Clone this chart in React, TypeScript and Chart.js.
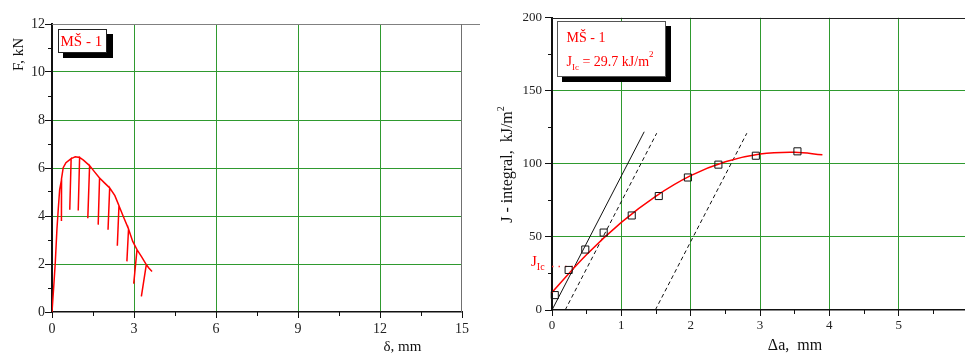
import React, { useEffect, useRef } from 'react';
import { Chart, registerables } from 'chart.js';
Chart.register(...registerables);

// ---- Left chart data: F vs δ (loading with partial unloadings) ----
const deltaValues = [0, 0.06, 0.12, 0.18, 0.23, 0.28, 0.35, 0.34, 0.35, 0.41, 0.51, 0.70, 0.65, 0.70, 0.85, 1.01, 0.96, 1.01, 1.15, 1.375, 1.31, 1.375, 1.55, 1.74, 1.69, 1.74, 1.92, 2.11, 2.05, 2.11, 2.30, 2.45, 2.39, 2.45, 2.62, 2.80, 2.74, 2.80, 2.95, 3.11, 2.99, 3.11, 3.28, 3.45, 3.27, 3.45, 3.55, 3.66];
const forceValues = [0, 1.0, 2.06, 3.44, 4.3, 5.1, 5.53, 3.79, 5.53, 6.01, 6.22, 6.39, 4.26, 6.39, 6.47, 6.44, 4.23, 6.44, 6.33, 6.1, 3.91, 6.1, 5.85, 5.58, 3.64, 5.58, 5.38, 5.17, 3.43, 5.17, 4.85, 4.43, 2.76, 4.43, 3.95, 3.46, 2.11, 3.46, 2.95, 2.6, 1.18, 2.6, 2.3, 1.97, 0.65, 1.97, 1.82, 1.69];
const deltaTicks = [0, 3, 6, 9, 12, 15];
const forceTicks = [0, 2, 4, 6, 8, 10, 12];

// ---- Right chart data: J-integral vs Δa ----
const crackExt = [0.04, 0.24, 0.48, 0.745, 1.15, 1.54, 1.96, 2.40, 2.94, 3.54];
const jValues = [10.2, 27.4, 41.4, 53, 64.7, 78, 90.7, 99.5, 105.6, 108.6];
const fitExt = [0, 0.5, 1, 1.5, 2, 2.5, 3, 3.5, 3.9];
const fitJ = [12, 38, 60, 78, 92, 101.5, 106.8, 108, 106.2];
const bluntExt = [0, 1.33];
const bluntJ = [0, 122];
const offset1Ext = [0.19, 1.51];
const offset1J = [0, 121];
const offset2Ext = [1.49, 2.81];
const offset2J = [0, 121];
const jicExt = [0, 0.36];
const jicJ = [29.7, 29.7];
const extTicks = [0, 1, 2, 3, 4, 5, 6];
const jTicks = [0, 50, 100, 150, 200];

const SERIF = '"Liberation Serif", "Times New Roman", serif';
const GRID = '#2f9a2f';

const pts = (xs: number[], ys: number[]) => xs.map((x, i) => ({ x, y: ys[i] }));

type Part = { t: string; size: number; dy?: number };
function drawRich(ctx: CanvasRenderingContext2D, parts: Part[], x: number, y: number, align: 'left' | 'center' = 'left') {
  let total = 0;
  for (const p of parts) {
    ctx.font = `${p.size}px ${SERIF}`;
    total += ctx.measureText(p.t).width;
  }
  let cx = align === 'center' ? x - total / 2 : x;
  ctx.textAlign = 'left';
  ctx.textBaseline = 'alphabetic';
  for (const p of parts) {
    ctx.font = `${p.size}px ${SERIF}`;
    ctx.fillText(p.t, cx, y + (p.dy || 0));
    cx += ctx.measureText(p.t).width;
  }
}

function decoPlugin(opts: {
  xStep: number; xMajor: number; yStep: number; yMajor: number;
  topColor: string; rightColor: string | null;
  extra: (ctx: CanvasRenderingContext2D, chart: any) => void;
}) {
  return {
    id: 'deco',
    afterDraw(chart: any) {
      const ctx: CanvasRenderingContext2D = chart.ctx;
      const { left, right, top, bottom } = chart.chartArea;
      const xs = chart.scales.x;
      const ys = chart.scales.y;
      ctx.save();
      // borders top/right
      ctx.lineWidth = 1;
      ctx.strokeStyle = opts.topColor;
      ctx.beginPath();
      ctx.moveTo(left, Math.round(top) + 0.5);
      ctx.lineTo(right + 20, Math.round(top) + 0.5);
      ctx.stroke();
      if (opts.rightColor) {
        ctx.strokeStyle = opts.rightColor;
        ctx.beginPath();
        ctx.moveTo(Math.round(right) - 0.5, top);
        ctx.lineTo(Math.round(right) - 0.5, bottom);
        ctx.stroke();
      }
      // tick marks
      ctx.strokeStyle = '#111';
      for (let v = ys.min; v <= ys.max + 1e-9; v += opts.yStep) {
        const p = Math.round(ys.getPixelForValue(v) - 0.5) + 0.5;
        const r = v / opts.yMajor;
        const major = Math.abs(r - Math.round(r)) < 1e-6;
        const len = major ? 6 : 3;
        ctx.beginPath();
        ctx.moveTo(left - len - 1, p);
        ctx.lineTo(left, p);
        ctx.stroke();
      }
      for (let v = xs.min; v <= xs.max + 1e-9; v += opts.xStep) {
        const p = Math.round(xs.getPixelForValue(v) - 0.5) + 0.5;
        const r = v / opts.xMajor;
        const major = Math.abs(r - Math.round(r)) < 1e-6;
        const len = major ? 5 : 3;
        ctx.beginPath();
        ctx.moveTo(p, bottom);
        ctx.lineTo(p, bottom + len + 1);
        ctx.stroke();
      }
      opts.extra(ctx, chart);
      ctx.restore();
    },
  };
}

function gridColor(min: number, max: number) {
  return (c: any) => {
    const v = c.tick ? c.tick.value : null;
    if (v === null || v === min || v === max) return 'rgba(0,0,0,0)';
    return GRID;
  };
}

function LeftChart() {
  const ref = useRef<HTMLCanvasElement>(null);
  useEffect(() => {
    const canvas = ref.current!;
    const chart = new Chart(canvas, {
      type: 'scatter',
      data: {
        datasets: [
          {
            data: pts(deltaValues, forceValues),
            showLine: true,
            borderColor: '#ff0000',
            borderWidth: 1.5,
            pointRadius: 0,
            tension: 0,
          },
        ],
      },
      options: {
        animation: false,
        responsive: false,
        events: [],
        layout: { padding: { left: 0, top: 24, right: 18, bottom: 0 } },
        plugins: { legend: { display: false }, tooltip: { enabled: false } },
        scales: {
          x: {
            type: 'linear',
            min: deltaTicks[0],
            max: deltaTicks[deltaTicks.length - 1],
            afterFit: (s: any) => { s.height = 41; },
            afterBuildTicks: (s: any) => { s.ticks = deltaTicks.map((v) => ({ value: v })); },
            ticks: { color: '#222', font: { family: SERIF, size: 14 }, padding: 9, maxRotation: 0 },
            grid: { color: gridColor(0, 15), drawTicks: false, lineWidth: 1 },
            border: { display: true, color: '#111', width: 1.5 },
          },
          y: {
            type: 'linear',
            min: forceTicks[0],
            max: forceTicks[forceTicks.length - 1],
            afterFit: (s: any) => { s.width = 52; },
            afterBuildTicks: (s: any) => { s.ticks = forceTicks.map((v) => ({ value: v })); },
            ticks: { color: '#222', font: { family: SERIF, size: 14 }, padding: 7 },
            grid: { color: gridColor(0, 12), drawTicks: false, lineWidth: 1 },
            border: { display: true, color: '#111', width: 2 },
          },
        },
      },
      plugins: [
        decoPlugin({
          xStep: 1.5, xMajor: 3, yStep: 1, yMajor: 2,
          topColor: '#808080', rightColor: '#707070',
          extra: (ctx) => {
            ctx.fillStyle = '#111';
            // axis titles
            ctx.save();
            ctx.translate(22.5, 54.5);
            ctx.rotate(-Math.PI / 2);
            drawRich(ctx, [{ t: 'F, kN', size: 15 }], 0, 0, 'center');
            ctx.restore();
            drawRich(ctx, [{ t: 'δ, mm', size: 15 }], 402.5, 350.5, 'center');
            // legend box
            ctx.fillStyle = '#000';
            ctx.fillRect(63, 34, 50, 24);
            ctx.fillStyle = '#fff';
            ctx.fillRect(58, 29, 49, 24);
            ctx.strokeStyle = '#222';
            ctx.lineWidth = 1;
            ctx.strokeRect(58.5, 29.5, 48, 23);
            ctx.fillStyle = '#ff0000';
            drawRich(ctx, [{ t: 'MŠ - 1', size: 15 }], 60.5, 46);
          },
        }) as any,
      ],
    } as any);
    return () => chart.destroy();
  }, []);
  return <canvas ref={ref} width={480} height={353} style={{ position: 'absolute', left: 0, top: 0 }} />;
}

function RightChart() {
  const ref = useRef<HTMLCanvasElement>(null);
  useEffect(() => {
    const canvas = ref.current!;
    const chart = new Chart(canvas, {
      type: 'scatter',
      data: {
        datasets: [
          {
            data: pts(crackExt, jValues),
            showLine: false,
            pointStyle: 'rect',
            pointRadius: 5,
            borderColor: '#111',
            backgroundColor: 'rgba(255,255,255,0)',
            pointBorderWidth: 1,
            clip: false,
          },
          {
            data: pts(fitExt, fitJ),
            showLine: true,
            borderColor: '#ff0000',
            borderWidth: 1.5,
            pointRadius: 0,
            tension: 0.4,
          },
          {
            data: pts(bluntExt, bluntJ),
            showLine: true,
            borderColor: '#111',
            borderWidth: 1,
            pointRadius: 0,
          },
          {
            data: pts(offset1Ext, offset1J),
            showLine: true,
            borderColor: '#111',
            borderWidth: 1,
            borderDash: [4, 3],
            pointRadius: 0,
          },
          {
            data: pts(offset2Ext, offset2J),
            showLine: true,
            borderColor: '#111',
            borderWidth: 1,
            borderDash: [4, 3],
            pointRadius: 0,
          },
          {
            data: pts(jicExt, jicJ),
            showLine: true,
            borderColor: '#ff3030',
            borderWidth: 1.5,
            borderDash: [1.5, 5],
            pointRadius: 0,
          },
        ],
      },
      options: {
        animation: false,
        responsive: false,
        events: [],
        layout: { padding: { left: 0, top: 15, right: 12, bottom: 0 } },
        plugins: { legend: { display: false }, tooltip: { enabled: false } },
        scales: {
          x: {
            type: 'linear',
            min: extTicks[0],
            max: extTicks[extTicks.length - 1],
            afterFit: (s: any) => { s.height = 43; },
            afterBuildTicks: (s: any) => { s.ticks = extTicks.map((v) => ({ value: v })); },
            ticks: {
              color: '#222', font: { family: SERIF, size: 13 }, padding: 8, maxRotation: 0,
              callback: (v: any) => (v === 6 ? '' : String(v)),
            },
            grid: { color: gridColor(0, 6), drawTicks: false, lineWidth: 1 },
            border: { display: true, color: '#111', width: 1.5 },
          },
          y: {
            type: 'linear',
            min: jTicks[0],
            max: jTicks[jTicks.length - 1],
            afterFit: (s: any) => { s.width = 72; },
            afterBuildTicks: (s: any) => { s.ticks = jTicks.map((v) => ({ value: v })); },
            ticks: { color: '#222', font: { family: SERIF, size: 13 }, padding: 10 },
            grid: { color: gridColor(0, 200), drawTicks: false, lineWidth: 1 },
            border: { display: true, color: '#111', width: 2 },
          },
        },
      },
      plugins: [
        decoPlugin({
          xStep: 0.5, xMajor: 1, yStep: 25, yMajor: 50,
          topColor: '#222', rightColor: null,
          extra: (ctx) => {
            ctx.fillStyle = '#111';
            ctx.save();
            ctx.translate(32, 164.5);
            ctx.rotate(-Math.PI / 2);
            drawRich(ctx, [{ t: 'J - integral,  kJ/m', size: 16 }, { t: '2', size: 10, dy: -8 }], 0, 0, 'center');
            ctx.restore();
            drawRich(ctx, [{ t: 'Δa,  mm', size: 16 }], 315, 350, 'center');
            // J_Ic label
            ctx.fillStyle = '#ff0000';
            drawRich(ctx, [{ t: 'J', size: 15 }, { t: 'Ic', size: 10, dy: 4 }], 51, 266);
            // legend box
            ctx.fillStyle = '#000';
            ctx.fillRect(82, 26, 109, 56);
            ctx.fillStyle = '#fff';
            ctx.fillRect(77, 21, 109, 56);
            ctx.strokeStyle = '#555';
            ctx.lineWidth = 1;
            ctx.strokeRect(77.5, 21.5, 108, 55);
            ctx.fillStyle = '#ff0000';
            drawRich(ctx, [{ t: 'MŠ - 1', size: 14 }], 86.5, 41.5);
            drawRich(ctx, [
              { t: 'J', size: 14 },
              { t: 'Ic', size: 9, dy: 4 },
              { t: ' = 29.7 kJ/m', size: 14 },
              { t: '2', size: 9, dy: -9 },
            ], 86.5, 66);
          },
        }) as any,
      ],
    } as any);
    return () => chart.destroy();
  }, []);
  return <canvas ref={ref} width={500} height={353} style={{ position: 'absolute', left: 480, top: 0 }} />;
}

export default function App() {
  return (
    <div style={{ position: 'fixed', left: 0, top: 0, width: 965, height: 353, overflow: 'hidden', background: '#fff' }}>
      <LeftChart />
      <RightChart />
    </div>
  );
}
